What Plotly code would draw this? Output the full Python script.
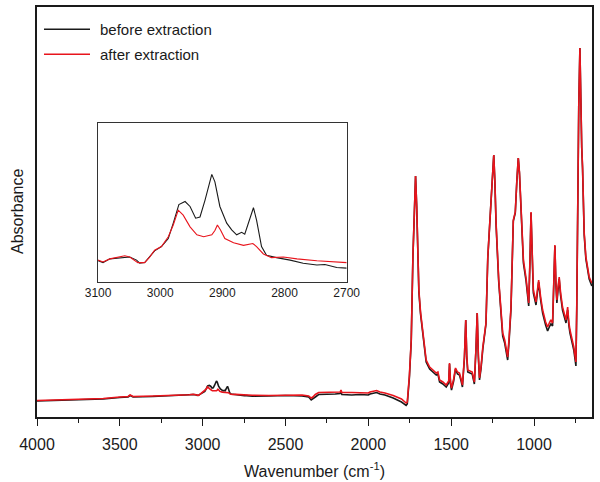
import plotly.graph_objects as go

# ---- data (absorbance, arbitrary units) ----
# featureless high-wavenumber baseline, 4000-3150 cm-1
base_hi_wn = [4000, 3900, 3800, 3700, 3600, 3500, 3450, 3438, 3420, 3300, 3200, 3150]
base_hi_before = [0.160, 0.165, 0.170, 0.175, 0.180, 0.195, 0.200, 0.215, 0.200, 0.205, 0.210, 0.215]
base_hi_after = [0.165, 0.170, 0.175, 0.180, 0.185, 0.200, 0.205, 0.220, 0.205, 0.210, 0.215, 0.218]

# C-H stretch region (also shown in the inset)
ch_wn_before = [3100, 3092, 3081, 3060, 3049, 3038, 3033, 3025, 3017, 3009, 2998, 2987,
                2979, 2970, 2960, 2952, 2943, 2936, 2928, 2921, 2917, 2912, 2904, 2893,
                2885, 2877, 2869, 2864, 2857, 2850, 2845, 2837, 2829, 2813, 2791, 2770,
                2748, 2735, 2716, 2700]
ch_abs_before = [0.220, 0.217, 0.223, 0.225, 0.226, 0.221, 0.216, 0.217, 0.226, 0.236, 0.243, 0.256,
                 0.281, 0.311, 0.316, 0.308, 0.289, 0.291, 0.318, 0.348, 0.360, 0.348, 0.308, 0.281,
                 0.270, 0.262, 0.266, 0.263, 0.286, 0.306, 0.286, 0.243, 0.229, 0.225, 0.221, 0.216,
                 0.213, 0.214, 0.209, 0.208]
ch_wn_after = [3100, 3092, 3081, 3057, 3049, 3036, 3025, 3017, 3009, 2998, 2987, 2979,
               2971, 2963, 2952, 2941, 2930, 2917, 2912, 2908, 2903, 2896, 2882, 2866,
               2851, 2845, 2834, 2821, 2802, 2780, 2748, 2727, 2700]
ch_abs_after = [0.221, 0.218, 0.223, 0.228, 0.226, 0.217, 0.217, 0.226, 0.237, 0.243, 0.259, 0.278,
                0.302, 0.294, 0.275, 0.262, 0.259, 0.262, 0.269, 0.278, 0.270, 0.256, 0.249, 0.245,
                0.248, 0.243, 0.231, 0.225, 0.226, 0.223, 0.220, 0.219, 0.217]

# mid baseline, 2600-1765 cm-1
base_mid_wn = [2600, 2500, 2400, 2360, 2345, 2335, 2320, 2300, 2250, 2200, 2170, 2165,
               2160, 2100, 2050, 2000, 1990, 1970, 1950, 1930, 1900, 1850, 1800, 1772, 1765]
base_mid_before = [0.210, 0.215, 0.210, 0.200, 0.170, 0.180, 0.200, 0.225, 0.225, 0.230, 0.235, 0.250,
                   0.225, 0.220, 0.225, 0.220, 0.230, 0.240, 0.245, 0.230, 0.220, 0.190, 0.150, 0.115, 0.130]
base_mid_after = [0.215, 0.220, 0.220, 0.210, 0.190, 0.200, 0.225, 0.245, 0.245, 0.250, 0.250, 0.270,
                  0.245, 0.245, 0.245, 0.240, 0.250, 0.260, 0.265, 0.250, 0.240, 0.215, 0.180, 0.140, 0.150]

# fingerprint region, 1752-651 cm-1
fp_wn = [1752, 1741, 1731, 1722, 1715, 1708, 1700, 1695, 1685, 1675, 1651, 1630,
         1613, 1590, 1580, 1570, 1550, 1530, 1515, 1510, 1504, 1498, 1485, 1474,
         1462, 1450, 1440, 1432, 1420, 1412, 1406, 1400, 1373, 1365, 1360, 1350,
         1343, 1336, 1329, 1320, 1309, 1290, 1279, 1259, 1250, 1243, 1236, 1229,
         1213, 1200, 1189, 1177, 1168, 1159, 1150, 1139, 1125, 1113, 1104, 1095,
         1088, 1079, 1064, 1048, 1040, 1032, 1024, 1018, 1011, 1004, 988, 980,
         972, 960, 948, 930, 918, 905, 898, 888, 880, 874, 868, 862,
         855, 848, 840, 828, 807, 797, 790, 783, 760, 747, 742, 737,
         730, 723, 717, 712, 707, 697, 687, 677, 667, 651]
fp_after = [0.42, 0.77, 1.60, 2.20, 2.41, 2.10, 1.60, 1.27, 1.05, 0.90, 0.57, 0.50,
            0.47, 0.44, 0.45, 0.37, 0.35, 0.32, 0.36, 0.54, 0.35, 0.29, 0.38, 0.49,
            0.45, 0.44, 0.38, 0.32, 0.60, 0.97, 0.62, 0.47, 0.45, 0.40, 0.35, 0.70,
            1.04, 0.62, 0.39, 0.50, 0.70, 0.94, 1.60, 2.17, 2.50, 2.62, 2.35, 1.94,
            1.37, 1.05, 0.84, 0.77, 0.70, 0.60, 0.80, 1.10, 1.97, 2.05, 2.35, 2.59,
            2.45, 2.10, 1.57, 1.39, 1.25, 1.14, 1.60, 2.05, 1.65, 1.27, 1.15, 1.25,
            1.37, 1.20, 1.07, 0.95, 0.90, 0.95, 0.97, 0.94, 1.30, 1.72, 1.35, 1.17,
            1.30, 1.40, 1.25, 1.10, 0.97, 1.10, 0.95, 0.87, 0.70, 0.55, 1.10, 2.17,
            3.10, 3.69, 3.00, 2.70, 2.50, 1.84, 1.60, 1.48, 1.40, 1.34]
fp_before = [0.40, 0.76, 1.60, 2.20, 2.41, 2.10, 1.59, 1.25, 1.03, 0.88, 0.55, 0.48,
             0.45, 0.42, 0.43, 0.35, 0.33, 0.30, 0.34, 0.53, 0.33, 0.27, 0.36, 0.48,
             0.43, 0.42, 0.36, 0.30, 0.59, 0.97, 0.60, 0.45, 0.43, 0.38, 0.33, 0.69,
             1.04, 0.60, 0.37, 0.48, 0.68, 0.93, 1.59, 2.17, 2.50, 2.62, 2.34, 1.92,
             1.35, 1.02, 0.81, 0.74, 0.67, 0.57, 0.77, 1.08, 1.96, 2.04, 2.35, 2.59,
             2.44, 2.08, 1.54, 1.36, 1.22, 1.11, 1.58, 2.04, 1.63, 1.24, 1.12, 1.22,
             1.35, 1.17, 1.04, 0.92, 0.86, 0.91, 0.93, 0.91, 1.28, 1.71, 1.33, 1.14,
             1.27, 1.38, 1.22, 1.07, 0.94, 1.07, 0.92, 0.84, 0.67, 0.51, 1.08, 2.16,
             3.10, 3.69, 3.00, 2.69, 2.48, 1.82, 1.58, 1.46, 1.38, 1.31]

legend_names = ["before extraction", "after extraction"]
inset_ticks = [3100, 3000, 2900, 2800, 2700]

wn_before = base_hi_wn + ch_wn_before + base_mid_wn + fp_wn
abs_before = base_hi_before + ch_abs_before + base_mid_before + fp_before
wn_after = base_hi_wn + ch_wn_after + base_mid_wn + fp_wn
abs_after = base_hi_after + ch_abs_after + base_mid_after + fp_after

BLACK = "#1a1a1a"
RED = "#e8141c"
FONT = "Arial, Liberation Sans, sans-serif"

fig = go.Figure()

# main spectra
fig.add_trace(go.Scatter(x=wn_before, y=abs_before, mode="lines", name=legend_names[0],
                         line=dict(color=BLACK, width=1.6), showlegend=False))
fig.add_trace(go.Scatter(x=wn_after, y=abs_after, mode="lines", name=legend_names[1],
                         line=dict(color=RED, width=1.6), showlegend=False))

# inset, same spectra zoomed into the C-H stretch
fig.add_trace(go.Scatter(x=ch_wn_before, y=ch_abs_before, mode="lines", xaxis="x2", yaxis="y2",
                         line=dict(color=BLACK, width=1.1), showlegend=False))
fig.add_trace(go.Scatter(x=ch_wn_after, y=ch_abs_after, mode="lines", xaxis="x2", yaxis="y2",
                         line=dict(color=RED, width=1.1), showlegend=False))

fig.update_layout(
    template="none",
    width=600, height=482, autosize=False, showlegend=False,
    margin=dict(l=37, r=8, t=7, b=65, autoexpand=False),
    paper_bgcolor="white", plot_bgcolor="white",
    font=dict(family=FONT, color="#1a1a1a", size=16),
    xaxis=dict(
        range=[4000, 650], domain=[0, 1], automargin=False,
        tickvals=[4000, 3500, 3000, 2500, 2000, 1500, 1000],
        ticks="outside", ticklen=7, tickwidth=1.3, tickcolor="#1a1a1a",
        minor=dict(dtick=250, ticks="outside", ticklen=4, tickwidth=1.3, tickcolor="#1a1a1a"),
        showline=True, linecolor="#1a1a1a", linewidth=1.5, mirror=True,
        showgrid=False, zeroline=False,
        tickfont=dict(size=16), ticklabelstandoff=5,
        title=dict(text="Wavenumber (cm<sup>-1</sup>)", font=dict(size=16), standoff=14),
    ),
    yaxis=dict(
        range=[0, 4.1], domain=[0, 1], automargin=False,
        showticklabels=False, ticks="",
        showline=True, linecolor="#1a1a1a", linewidth=1.5, mirror=True,
        showgrid=False, zeroline=False,
    ),
    xaxis2=dict(
        range=[3100, 2700], domain=[0.110, 0.558], anchor="y2", automargin=False,
        tickvals=inset_ticks, ticks="", tickfont=dict(size=12),
        showline=True, linecolor="#333333", linewidth=1, mirror=True,
        showgrid=False, zeroline=False,
    ),
    yaxis2=dict(
        range=[0.186, 0.444], domain=[0.330, 0.718], anchor="x2", automargin=False,
        showticklabels=False, ticks="",
        showline=True, linecolor="#333333", linewidth=1, mirror=True,
        showgrid=False, zeroline=False,
    ),
)

# y axis title placed by hand
fig.add_annotation(text="Absorbance", xref="paper", yref="paper", x=-0.036, y=0.5,
                   textangle=-90, showarrow=False, font=dict(size=16),
                   xanchor="center", yanchor="middle")

# hand drawn legend, top left
for i, (name, col) in enumerate(zip(legend_names, [BLACK, RED])):
    yy = 0.9456 - i * 0.061
    fig.add_shape(type="line", xref="paper", yref="paper", x0=0.0126, x1=0.0955, y0=yy, y1=yy,
                  line=dict(color=col, width=1.5))
    fig.add_annotation(text=name, xref="paper", yref="paper", x=0.1094, y=yy,
                       xanchor="left", yanchor="middle", showarrow=False, font=dict(size=15))

# fixed size page, no body margin, no modebar
fig.write_html("out.html",
               config={"responsive": False, "displayModeBar": False},
               post_script="document.body.style.margin='0';document.body.style.overflow='hidden';")
